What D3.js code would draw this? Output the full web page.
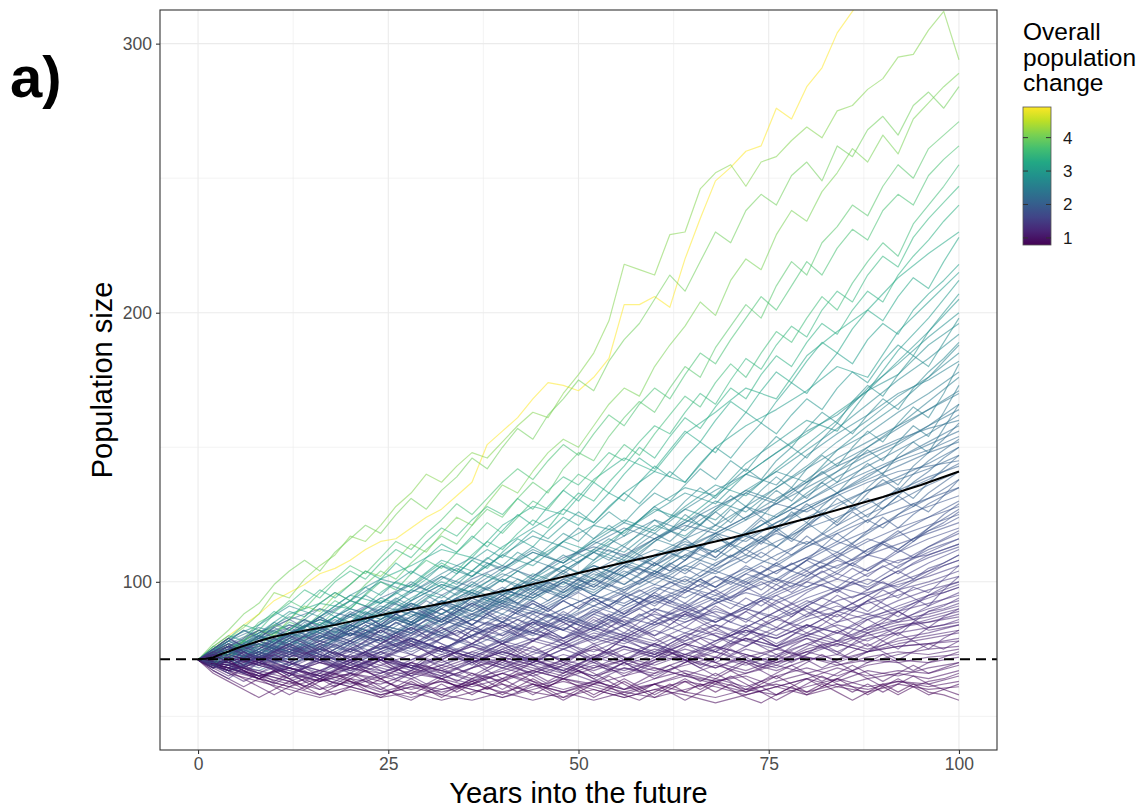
<!DOCTYPE html>
<html>
<head>
<meta charset="utf-8">
<script src="https://cdn.jsdelivr.net/npm/d3@7"></script>
<style>
  body { margin: 0; background: #fff; }
  svg { display: block; }
  text { font-family: "Liberation Sans", Arial, sans-serif; }
</style>
</head>
<body>
<svg id="chart" width="1144" height="812"></svg>
<script>
// Simulated population trajectories, recorded every two years (0..100)
const years = d3.range(0, 101, 2);
const startSize = 71.2;

const trajectories = [
  [71,76,80,84,88,93,96,99,103,105,108,112,115,116,120,124,127,132,137,151,156,161,168,174,173,171,176,183,203,203,206,202,220,235,249,254,260,262,276,272,284,291,304,312,320,326,334,330,338,344,349],
  [71,75,79,83,88,96,94,101,106,110,117,115,121,128,133,140,137,143,148,146,152,158,163,161,170,177,185,197,218,216,214,229,230,246,252,255,247,256,258,264,269,265,275,277,283,287,295,296,305,312,294],
  [71,74,72,78,82,80,86,91,89,95,99,104,102,108,114,111,118,124,121,129,136,133,141,148,153,150,158,166,172,169,180,188,195,204,199,212,220,216,229,238,234,245,252,261,256,266,259,272,278,284,289],
  [71,77,82,88,92,99,104,108,104,111,116,121,118,125,131,127,134,139,146,142,150,157,153,162,168,175,171,182,190,196,205,214,208,219,230,226,238,244,240,251,256,249,262,258,268,273,266,277,282,276,284],
  [71,73,77,75,80,84,82,87,92,96,93,99,104,101,107,112,117,114,121,127,124,131,137,133,142,148,145,154,161,167,163,172,180,176,187,195,203,198,210,219,214,226,232,240,236,247,255,250,261,266,271],
  [71,76,74,79,85,88,93,90,96,101,106,103,109,115,112,118,123,129,125,131,137,142,138,145,151,147,155,162,158,166,172,168,177,185,181,190,198,206,201,210,219,214,224,231,227,238,244,240,251,257,262],
  [71,69,74,78,76,81,85,83,88,93,90,95,100,97,103,108,105,111,116,122,118,124,130,127,134,140,137,144,151,147,155,162,169,165,174,181,176,185,193,189,198,206,201,211,219,226,221,233,240,247,255],
  [71,75,79,84,82,88,92,97,94,100,104,101,107,112,109,115,120,117,123,128,125,131,127,134,139,136,142,148,145,152,158,155,163,170,166,175,183,179,188,195,191,201,208,204,214,221,217,228,235,241,247],
  [71,73,71,76,80,78,82,86,84,89,93,91,96,100,98,103,107,104,110,115,112,118,123,120,127,133,130,137,143,150,146,154,161,157,165,172,168,177,184,180,189,196,192,201,208,204,214,221,227,234,240],
  [71,76,80,78,84,89,86,92,97,94,99,104,101,107,103,109,114,111,117,113,119,125,121,128,134,130,137,133,140,146,142,149,156,152,160,167,163,171,178,174,182,189,185,194,201,197,206,213,209,219,228],
  [71,70,74,72,77,75,80,84,82,87,85,90,94,92,97,101,98,103,108,105,111,116,113,119,124,121,127,133,130,137,143,139,146,152,148,156,163,159,167,174,170,178,185,181,190,196,192,201,207,212,218],
  [71,74,78,82,80,85,89,87,92,96,93,98,95,100,104,101,106,103,108,112,109,114,119,116,121,126,122,128,133,129,135,141,137,144,150,146,153,159,155,162,168,164,172,178,174,182,188,184,193,200,207],
  [71,68,72,75,73,77,81,79,83,87,84,88,92,96,93,98,102,99,104,109,106,111,108,113,118,115,121,126,122,128,133,130,136,142,138,145,141,148,154,150,157,163,159,167,173,169,177,184,180,189,198],
  [71,75,73,77,81,85,82,86,90,87,91,95,92,96,100,97,101,105,102,107,104,109,113,110,115,120,116,121,117,123,128,124,130,135,131,137,142,138,145,150,146,153,159,155,162,168,164,172,178,183,189],
  [71,73,76,74,78,82,79,83,87,84,88,85,89,93,90,94,98,95,99,103,100,104,101,106,110,107,112,116,113,118,123,119,125,121,127,132,128,134,139,135,142,147,143,150,156,152,159,165,161,170,181],
  [71,69,73,77,74,78,76,80,84,81,85,89,86,90,87,91,95,92,96,93,97,101,98,102,106,103,108,112,109,114,118,115,120,125,121,127,123,129,134,130,136,141,137,144,149,145,152,158,154,163,173],
  [71,74,78,75,79,83,80,84,81,85,89,86,90,94,91,95,92,96,100,97,101,98,102,106,103,107,111,108,113,110,115,119,116,121,126,122,128,124,130,135,131,137,133,139,144,140,147,152,148,157,166],
  [71,72,70,74,71,75,79,76,80,78,82,86,83,87,84,88,92,89,93,90,94,98,95,99,96,100,104,101,105,109,106,111,108,113,118,114,119,124,120,126,122,128,133,129,135,140,136,143,148,153,159],
  [71,75,79,76,80,77,81,85,82,86,83,87,84,88,92,89,93,90,94,98,95,99,96,100,104,101,105,102,106,110,107,111,116,112,117,113,118,123,119,124,129,125,131,127,133,138,134,140,145,149,153],
  [71,68,71,69,73,76,74,78,75,79,83,80,84,81,85,89,86,90,87,91,95,92,96,93,97,101,98,102,99,103,107,104,108,112,109,114,110,115,120,116,121,126,122,128,124,130,135,131,137,142,147],
  [71,74,72,76,80,77,81,78,82,79,83,87,84,88,85,89,86,90,94,91,95,92,96,100,97,101,98,102,106,103,107,104,108,113,109,114,118,114,119,115,120,125,121,126,122,127,132,128,133,137,141],
  [71,73,76,73,77,74,78,75,79,83,80,84,81,85,82,86,90,87,91,88,92,89,93,90,94,98,95,99,96,100,104,101,105,102,106,110,107,111,108,112,117,113,118,114,119,124,120,125,129,132,135],
  [71,69,72,75,72,76,73,77,74,78,81,78,82,79,83,80,84,87,84,88,85,89,86,90,93,90,94,91,95,92,96,100,97,101,98,102,106,103,107,104,108,113,109,114,110,115,119,115,120,125,129],
  [71,74,77,74,78,75,79,82,79,83,80,84,81,85,82,86,83,87,84,88,85,89,92,89,93,90,94,91,95,92,96,93,97,101,98,102,99,103,100,104,108,105,109,106,110,114,111,115,119,121,124],
  [71,70,67,71,74,71,75,72,76,73,77,80,77,81,78,82,79,83,80,84,87,84,88,85,89,86,90,87,91,94,91,95,92,96,93,97,100,97,101,98,102,106,103,107,104,108,112,109,113,116,119],
  [71,73,70,74,71,75,72,76,73,77,74,78,75,79,82,79,83,80,84,81,85,82,86,83,87,84,88,91,88,92,89,93,90,94,97,94,98,95,99,96,100,104,101,105,102,106,103,107,110,112,114],
  [71,68,72,69,73,70,74,71,75,72,76,73,77,74,78,75,79,82,79,83,80,84,81,85,82,86,83,87,84,88,85,89,92,89,93,90,94,91,95,92,96,99,96,100,97,101,104,101,105,107,110],
  [71,74,76,72,75,79,76,73,77,80,78,82,79,76,80,84,81,78,82,85,83,80,84,88,85,82,86,83,87,90,87,84,88,91,88,85,89,93,90,87,91,94,92,89,93,97,94,98,96,101,106],
  [71,72,69,66,70,73,71,68,72,75,78,74,71,75,79,77,74,78,82,80,77,81,85,82,79,83,87,84,81,85,89,86,83,87,91,88,85,89,93,90,87,91,95,92,89,93,97,94,91,97,102],
  [71,75,79,76,73,77,80,77,74,71,75,78,82,79,76,80,83,80,77,81,84,81,78,82,85,82,79,83,86,83,80,84,88,85,82,86,89,86,83,87,91,88,85,89,93,90,87,91,95,96,98],
  [71,67,64,68,71,68,65,69,72,69,66,70,74,71,68,72,75,72,69,73,76,73,70,74,77,74,71,75,79,76,73,77,80,77,74,78,82,79,76,80,84,81,78,82,86,83,80,85,89,91,94],
  [71,73,76,73,70,67,70,73,76,73,70,74,77,80,77,74,71,74,77,80,77,74,78,81,78,75,72,75,79,82,79,76,79,83,80,77,80,84,87,84,81,84,88,85,82,85,89,86,83,87,90],
  [71,69,66,63,66,69,66,63,66,70,73,70,67,64,67,71,68,65,68,72,75,72,69,66,69,73,70,67,70,74,77,74,71,68,71,75,72,69,72,76,79,76,73,77,81,78,75,79,83,84,86],
  [71,74,71,68,71,74,77,74,71,68,71,74,71,68,65,68,71,74,71,68,71,75,72,69,66,69,72,75,72,69,72,75,72,69,72,76,79,76,73,70,73,77,74,71,74,78,81,78,75,79,82],
  [71,68,65,68,65,62,65,68,65,62,65,68,71,68,65,62,65,68,65,68,71,68,65,62,65,68,71,68,65,68,71,74,71,68,65,68,71,68,71,74,71,68,71,74,77,74,71,74,77,75,78],
  [71,73,70,67,64,67,64,61,64,67,70,67,64,67,70,67,64,61,64,67,64,67,70,73,70,67,64,67,70,67,64,67,70,73,70,67,70,67,64,67,70,73,70,67,70,73,70,67,70,72,74],
  [71,69,72,69,66,63,66,63,60,63,66,63,60,63,66,69,66,63,66,63,60,63,66,63,66,69,66,63,60,63,66,69,66,63,66,63,60,63,66,69,66,63,66,69,66,63,66,69,66,68,70],
  [71,67,64,61,64,61,58,61,64,61,64,67,64,61,64,61,58,61,64,61,64,61,58,61,64,67,64,61,64,61,58,61,64,61,64,67,64,61,58,61,64,61,64,67,64,61,64,61,63,64,66],
  [71,70,67,64,61,58,61,64,61,58,61,64,61,58,56,59,62,59,62,65,62,59,62,59,56,59,62,65,62,59,62,59,56,59,62,65,62,59,56,59,62,65,62,59,62,59,62,65,62,60,62],
  [71,66,63,60,57,60,63,60,63,66,63,60,57,60,63,60,57,60,63,60,63,66,63,60,57,60,57,60,63,60,57,60,63,60,63,60,57,55,58,61,58,61,64,61,58,61,58,61,58,60,58],
  [71,68,71,67,64,67,64,61,58,61,64,61,64,61,58,61,64,61,58,61,58,61,64,61,64,61,58,61,58,56,59,62,59,62,59,62,59,62,65,62,59,62,59,56,59,62,59,62,59,58,56],
  [71,72,75,72,76,79,77,80,83,80,84,81,85,88,85,82,86,89,86,90,93,90,94,97,94,98,95,99,102,99,103,107,104,108,112,109,113,117,113,118,122,118,123,127,131,127,132,137,141,146,150],
  [71,75,78,82,79,83,86,83,87,84,88,91,88,92,89,93,90,94,91,95,98,95,99,96,100,97,101,98,102,105,102,106,103,107,104,108,112,109,113,110,114,118,115,119,123,120,125,129,126,132,138],
  [71,70,73,76,74,77,80,78,81,79,82,85,83,86,84,87,90,87,84,88,91,88,92,89,93,96,93,90,94,97,94,98,101,98,102,99,103,106,103,107,104,108,111,108,112,115,112,116,119,122,126],
  [71,73,76,79,82,79,83,86,83,80,84,87,84,88,91,88,85,89,92,89,86,90,93,90,87,91,94,91,88,92,95,92,96,99,96,93,97,100,97,101,104,101,98,102,105,108,105,109,112,114,116],
  [71,69,66,69,72,70,73,76,73,70,73,76,79,76,73,76,79,82,79,76,79,82,85,82,79,82,85,88,85,82,85,88,91,88,85,88,91,94,91,88,91,94,97,94,97,100,97,100,103,106,108],
  [71,74,77,74,71,74,77,80,77,74,71,74,77,80,83,80,77,74,77,80,83,86,83,80,77,80,83,86,83,80,83,86,89,86,83,80,83,86,89,92,89,86,89,92,95,92,89,92,95,98,100],
  [71,68,71,74,71,68,65,68,71,74,71,68,71,74,77,74,71,68,71,74,77,74,71,74,77,80,77,74,71,74,77,80,77,74,77,80,83,80,77,80,83,86,83,80,83,86,89,86,89,90,92],
  [71,73,70,67,70,73,70,67,64,67,70,73,70,67,70,73,76,73,70,67,70,73,76,73,70,73,76,73,70,67,70,73,76,79,76,73,76,79,76,73,76,79,82,79,76,79,82,85,82,83,84]
];

// Further trajectories, recorded every four years (0..100)
const coarseYears = d3.range(0, 101, 4);
const coarseTrajectories = [
  [71,76,79,88,92,90,101,106,112,109,121,128,125,138,146,141,155,163,172,168,184,193,201,213,222,230],
  [71,74,82,80,87,95,92,99,108,104,113,120,127,122,133,141,137,150,158,164,171,180,176,193,204,215],
  [71,73,78,84,81,87,93,90,97,104,100,108,115,111,119,127,123,132,140,148,155,163,171,186,198,212],
  [71,68,75,81,86,83,90,97,94,102,110,106,115,121,118,128,135,132,144,152,160,156,171,182,193,205],
  [71,76,73,79,84,90,87,94,100,96,104,111,107,116,123,119,128,136,132,142,151,160,172,181,191,200],
  [71,79,84,91,87,95,101,98,106,102,110,117,113,108,119,126,133,129,140,148,156,162,171,177,188,196],
  [71,70,75,72,78,83,89,85,92,99,95,103,99,107,114,121,117,126,134,141,149,157,166,175,183,192],
  [71,73,69,76,82,88,85,93,99,96,92,101,108,115,111,120,127,123,133,141,137,149,158,166,176,188],
  [71,74,80,77,72,78,84,81,88,94,101,97,104,111,107,115,122,130,126,135,143,152,160,169,176,185],
  [71,77,74,80,86,93,100,96,103,109,105,112,107,115,122,118,127,134,140,136,147,155,162,170,175,182],
  [71,72,76,81,86,82,88,84,91,97,93,100,106,112,108,116,123,119,128,135,142,149,155,163,170,178],
  [71,69,73,78,75,82,88,84,91,97,103,99,106,101,109,116,112,121,128,124,133,141,150,158,167,176],
  [71,75,81,87,84,90,86,93,99,95,102,108,104,111,117,123,119,127,134,130,138,146,152,158,164,171],
  [71,69,74,70,76,81,78,84,90,86,93,99,95,102,108,104,112,118,124,131,137,144,150,157,164,170],
  [71,72,78,74,80,85,91,88,84,90,96,93,100,106,102,110,116,121,117,125,132,139,145,151,158,166],
  [71,77,82,78,85,80,86,92,88,95,91,98,103,100,107,112,109,117,123,129,135,141,147,152,158,164],
  [71,67,72,77,82,78,84,89,85,91,97,94,100,96,103,109,115,111,118,124,130,137,143,149,155,162],
  [71,76,72,78,83,80,86,92,88,94,90,97,102,99,106,103,110,116,112,120,127,133,139,146,152,158],
  [71,74,71,77,82,87,83,89,85,92,97,94,101,106,102,109,114,111,118,124,130,136,141,146,151,156],
  [71,70,75,81,78,84,80,87,93,89,95,100,96,103,99,106,112,108,116,122,127,133,140,145,149,154],
  [71,73,78,82,79,85,90,86,93,89,96,101,98,104,110,106,113,118,115,122,128,133,138,143,148,152],
  [71,74,79,76,71,77,83,89,86,92,88,95,101,97,104,99,106,112,117,113,121,128,134,139,144,150],
  [71,78,75,81,86,82,88,85,91,96,92,98,94,101,107,103,110,106,113,119,124,129,134,138,142,147],
  [71,69,74,71,77,82,79,85,81,88,93,90,96,101,97,104,100,107,112,118,114,121,127,133,138,144],
  [71,70,67,72,77,81,78,84,80,86,91,88,94,99,95,101,106,103,109,115,120,124,129,134,139,143],
  [71,75,80,84,80,76,82,87,92,88,94,90,86,93,98,103,99,105,110,106,113,119,125,130,136,141],
  [71,68,64,69,74,78,75,81,86,82,88,84,90,95,91,97,102,98,104,110,115,111,118,125,131,138],
  [71,73,77,74,79,84,80,76,82,87,92,89,95,91,97,102,98,104,100,107,113,118,123,127,131,135],
  [71,76,73,69,75,80,84,81,87,83,78,85,90,95,92,98,94,100,105,101,108,114,119,124,128,132],
  [71,70,74,79,76,81,77,83,88,84,90,86,82,89,94,99,96,102,98,104,109,115,111,118,124,130],
  [71,74,70,75,80,77,73,79,84,88,85,80,86,91,87,93,98,95,101,106,102,109,115,120,124,128],
  [71,67,71,76,72,78,83,80,86,82,77,83,88,84,90,95,91,97,103,99,105,110,116,112,120,127],
  [71,75,79,83,78,74,79,75,81,86,83,89,85,91,96,92,97,93,99,104,109,105,112,117,121,125],
  [71,72,68,73,77,74,79,83,80,76,81,86,82,88,84,90,86,92,97,101,98,104,110,114,118,122],
  [71,69,73,69,74,79,83,79,75,80,85,81,87,83,89,94,90,95,91,97,103,108,104,111,116,120],
  [71,75,71,76,81,77,82,78,74,80,85,89,86,82,88,93,89,94,90,96,101,106,110,107,113,118],
  [71,73,78,74,70,75,80,77,82,86,82,78,84,89,85,90,87,92,96,93,98,103,99,106,111,116],
  [71,68,72,76,73,69,74,79,75,80,84,81,77,82,87,84,89,85,91,95,100,97,103,108,110,114],
  [71,74,77,73,78,82,78,74,79,83,80,85,82,78,84,88,85,90,86,92,97,101,98,104,109,113],
  [71,70,66,70,75,72,76,81,77,73,78,82,79,84,80,86,90,87,83,89,94,98,95,101,107,112],
  [71,76,72,77,73,69,74,78,75,80,77,82,86,82,78,84,88,85,90,86,92,97,101,98,104,110],
  [71,69,73,70,66,71,75,79,75,72,77,81,78,83,79,85,81,86,90,87,93,89,95,100,104,108],
  [71,73,69,74,78,75,71,76,80,77,73,78,83,79,84,80,85,89,86,82,88,93,96,99,102,106],
  [71,67,70,74,71,67,72,76,73,77,74,70,75,80,77,82,78,84,80,86,90,87,93,97,100,104],
  [71,74,78,75,71,68,73,77,74,70,75,79,76,81,78,74,80,84,81,86,83,89,92,95,99,102],
  [71,70,74,70,67,72,76,73,69,74,78,75,71,77,81,78,83,80,76,82,87,91,88,93,97,100],
  [71,75,72,68,73,70,75,79,75,72,77,74,79,83,80,76,81,78,84,80,86,89,86,91,95,99],
  [71,68,65,69,73,70,66,71,75,72,68,73,77,74,79,76,72,78,82,79,84,81,87,90,94,98],
  [71,73,77,73,70,74,71,67,72,76,73,70,75,79,76,72,77,81,78,83,80,85,88,85,91,96],
  [71,69,72,68,65,70,74,71,76,73,69,74,71,76,80,77,73,78,82,79,84,81,86,89,92,95],
  [71,74,70,67,71,75,72,68,73,70,74,78,75,71,76,73,78,82,78,75,80,84,81,86,90,93],
  [71,67,70,67,63,68,72,69,65,70,74,71,67,72,76,73,70,75,79,76,81,78,83,86,88,91],
  [71,73,69,73,70,66,71,68,72,76,72,69,73,70,75,72,77,74,79,76,80,77,82,85,87,90],
  [71,70,66,63,67,71,68,65,69,73,70,66,71,68,73,77,73,70,75,72,77,81,78,83,86,89],
  [71,74,71,75,72,68,72,69,66,70,74,71,67,72,69,73,77,74,70,75,79,76,81,84,85,88],
  [71,68,64,68,65,62,66,70,67,63,68,72,69,65,70,74,71,76,73,69,74,78,80,83,85,87],
  [71,73,70,66,70,67,71,68,64,68,72,69,66,70,67,71,75,72,69,73,77,74,79,81,83,85],
  [71,69,65,68,64,68,72,68,65,62,66,70,67,63,68,65,70,74,71,68,73,77,74,79,81,84],
  [71,74,76,72,75,72,69,73,70,74,71,67,71,75,72,69,73,76,73,70,75,78,75,78,80,82],
  [71,67,71,68,65,69,67,64,68,72,69,66,70,67,71,75,72,68,73,70,74,77,74,77,79,81],
  [71,72,69,66,70,68,65,69,67,71,68,65,69,73,70,67,71,68,72,75,72,70,74,76,77,79],
  [71,68,72,70,67,65,69,66,64,68,71,68,65,69,66,70,73,70,67,71,74,71,74,76,77,78],
  [71,73,70,68,65,68,66,70,67,64,67,71,68,65,68,66,69,72,70,67,71,73,70,73,75,76],
  [71,69,67,64,67,64,62,66,69,66,63,67,64,68,71,68,65,69,66,70,72,69,72,74,73,75],
  [71,72,69,66,63,66,64,67,64,61,64,67,64,62,65,68,65,63,66,69,66,69,71,70,72,73],
  [71,68,65,68,64,61,65,62,59,62,66,63,60,63,60,64,67,64,61,65,68,65,69,71,70,72],
  [71,73,70,66,63,66,63,60,63,60,57,61,64,61,58,62,65,62,59,63,66,63,67,65,68,70],
  [71,69,65,62,66,63,59,62,60,63,66,62,59,63,60,62,66,63,65,61,64,68,65,67,66,69],
  [71,67,64,61,64,61,58,61,63,60,57,60,63,60,57,60,63,61,58,61,64,61,64,66,64,67],
  [71,70,66,63,60,63,60,57,60,62,59,56,59,62,59,57,60,63,60,58,61,64,61,63,62,65],
  [71,68,64,61,58,61,58,61,58,56,59,62,59,56,59,62,59,57,60,62,59,62,60,63,61,63],
  [71,66,63,60,57,60,57,59,56,59,62,59,57,60,57,60,58,55,58,61,58,61,59,62,60,61],
  [71,78,83,80,87,93,89,96,102,98,105,111,107,114,120,116,122,128,133,129,137,143,148,153,157,160],
  [71,76,81,86,90,87,94,99,95,101,106,102,109,113,110,116,121,118,124,129,126,132,137,141,143,145]
];

// Mean trajectory across all simulations
const meanYears = [0,1,2,3,4,5,6,8,10,12,15,18,20,25,30,35,40,45,50,55,60,65,70,75,80,85,90,95,100];
const meanSize  = [71.2,71.4,71.9,73.1,74.1,75.2,76.2,78.0,79.6,80.8,82.4,84.0,85.2,88.2,90.8,93.5,96.5,99.8,103.3,106.5,109.8,113.0,116.3,119.8,123.5,127.5,131.5,136.0,141.0];

const xTicks = [0, 25, 50, 75, 100];
const xMinor = [12.5, 37.5, 62.5, 87.5];
const yTicks = [100, 200, 300];
const yMinor = [50, 150, 250];
const legendTicks = [1, 2, 3, 4];

const svg = d3.select("#chart");
const panel = { left: 160, right: 997, top: 10, bottom: 750 };

const x = d3.scaleLinear().domain([-5, 105]).range([panel.left, panel.right]);
const y = d3.scaleLinear().domain([37.5, 312.5]).range([panel.bottom, panel.top]);

// Every run carries its own sampling years; colour = final / initial size
const runs = [
  ...coarseTrajectories.map(v => ({ t: coarseYears, v })),
  ...trajectories.map(v => ({ t: years, v }))
];
runs.forEach(r => { r.ratio = r.v[r.v.length - 1] / r.v[0]; });
const color = d3.scaleSequential(d3.interpolateViridis).domain(d3.extent(runs, r => r.ratio));

const defs = svg.append("defs");
defs.append("clipPath").attr("id", "panel-clip")
  .append("rect")
  .attr("x", panel.left).attr("y", panel.top)
  .attr("width", panel.right - panel.left).attr("height", panel.bottom - panel.top);

// Grid
const grid = svg.append("g");
grid.selectAll(".xminor").data(xMinor).join("line")
  .attr("x1", d => x(d)).attr("x2", d => x(d))
  .attr("y1", panel.top).attr("y2", panel.bottom)
  .attr("stroke", "#ebebeb").attr("stroke-width", 0.6);
grid.selectAll(".yminor").data(yMinor).join("line")
  .attr("y1", d => y(d)).attr("y2", d => y(d))
  .attr("x1", panel.left).attr("x2", panel.right)
  .attr("stroke", "#ebebeb").attr("stroke-width", 0.6);
grid.selectAll(".xmajor").data(xTicks).join("line")
  .attr("x1", d => x(d)).attr("x2", d => x(d))
  .attr("y1", panel.top).attr("y2", panel.bottom)
  .attr("stroke", "#ebebeb").attr("stroke-width", 1.1);
grid.selectAll(".ymajor").data(yTicks).join("line")
  .attr("y1", d => y(d)).attr("y2", d => y(d))
  .attr("x1", panel.left).attr("x2", panel.right)
  .attr("stroke", "#ebebeb").attr("stroke-width", 1.1);

// Trajectories
const plot = svg.append("g").attr("clip-path", "url(#panel-clip)");
plot.selectAll(".run").data(runs).join("path")
  .attr("d", r => d3.line().x((d, i) => x(r.t[i])).y(d => y(d))(r.v))
  .attr("fill", "none")
  .attr("stroke", r => color(r.ratio))
  .attr("stroke-width", 1.2)
  .attr("stroke-opacity", 0.55)
  .attr("stroke-linejoin", "round");

// Starting population reference line
plot.append("line")
  .attr("x1", panel.left).attr("x2", panel.right)
  .attr("y1", y(startSize)).attr("y2", y(startSize))
  .attr("stroke", "#000").attr("stroke-width", 2)
  .attr("stroke-dasharray", "10,6");

// Mean trajectory
plot.append("path").datum(meanSize)
  .attr("d", d3.line().x((d, i) => x(meanYears[i])).y(d => y(d)))
  .attr("fill", "none").attr("stroke", "#000").attr("stroke-width", 2);

// Panel border
svg.append("rect")
  .attr("x", panel.left).attr("y", panel.top)
  .attr("width", panel.right - panel.left).attr("height", panel.bottom - panel.top)
  .attr("fill", "none").attr("stroke", "#333").attr("stroke-width", 1.1);

// Axes
const xAxis = svg.append("g").attr("transform", `translate(0,${panel.bottom})`)
  .call(d3.axisBottom(x).tickValues(xTicks).tickSize(4).tickPadding(4).tickFormat(d3.format("d")));
const yAxis = svg.append("g").attr("transform", `translate(${panel.left},0)`)
  .call(d3.axisLeft(y).tickValues(yTicks).tickSize(4).tickPadding(4).tickFormat(d3.format("d")));
[xAxis, yAxis].forEach(a => {
  a.select(".domain").remove();
  a.selectAll(".tick line").attr("stroke", "#333").attr("stroke-width", 1.1);
  a.selectAll(".tick text").attr("fill", "#4d4d4d")
    .style("font-size", "17.5px").style("font-family", '"Liberation Sans", Arial, sans-serif');
});

// Axis titles
svg.append("text")
  .attr("x", (panel.left + panel.right) / 2).attr("y", 803)
  .attr("text-anchor", "middle").attr("fill", "#000")
  .style("font-size", "29px").text("Years into the future");
svg.append("text")
  .attr("transform", `translate(112,${(panel.top + panel.bottom) / 2}) rotate(-90)`)
  .attr("text-anchor", "middle").attr("fill", "#000")
  .style("font-size", "29px").text("Population size");

// Panel tag
svg.append("text")
  .attr("x", 10).attr("y", 97)
  .attr("fill", "#000").style("font-size", "58px").style("font-weight", "bold")
  .text("a)");

// Colour legend
const lg = { x: 1023, top: 107, bottom: 245, w: 28 };
svg.append("g").selectAll("text").data(["Overall", "population", "change"]).join("text")
  .attr("x", lg.x).attr("y", (d, i) => 40 + i * 25.5)
  .attr("fill", "#000").style("font-size", "24.5px").text(d => d);

const grad = defs.append("linearGradient").attr("id", "cbar")
  .attr("x1", 0).attr("y1", 1).attr("x2", 0).attr("y2", 0);
d3.range(0, 1.0001, 0.1).forEach(t => {
  grad.append("stop").attr("offset", t).attr("stop-color", d3.interpolateViridis(t));
});
svg.append("rect")
  .attr("x", lg.x).attr("y", lg.top).attr("width", lg.w).attr("height", lg.bottom - lg.top)
  .attr("fill", "url(#cbar)").attr("stroke", "#555").attr("stroke-width", 0.8);

const ly = d3.scaleLinear().domain(color.domain()).range([lg.bottom, lg.top]);
const lt = svg.append("g");
lt.selectAll(".tl").data(legendTicks).join("line")
  .attr("x1", lg.x).attr("x2", lg.x + 5).attr("y1", d => ly(d)).attr("y2", d => ly(d))
  .attr("stroke", "#333").attr("stroke-width", 1);
lt.selectAll(".tr").data(legendTicks).join("line")
  .attr("x1", lg.x + lg.w - 5).attr("x2", lg.x + lg.w).attr("y1", d => ly(d)).attr("y2", d => ly(d))
  .attr("stroke", "#333").attr("stroke-width", 1);
lt.selectAll("text").data(legendTicks).join("text")
  .attr("x", lg.x + 40).attr("y", d => ly(d) + 6)
  .attr("fill", "#1a1a1a").style("font-size", "17px").text(d => d);
</script>
</body>
</html>
